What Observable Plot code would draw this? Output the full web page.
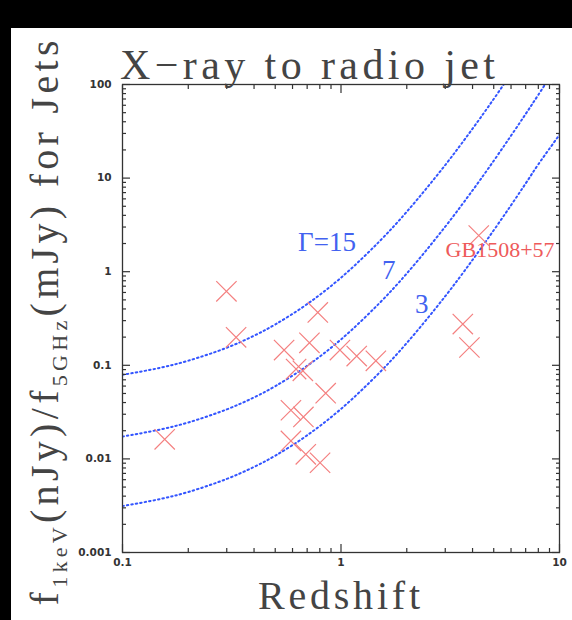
<!DOCTYPE html>
<html><head><meta charset="utf-8">
<script src="https://cdn.jsdelivr.net/npm/d3@7"></script>
<script src="https://cdn.jsdelivr.net/npm/@observablehq/plot@0.6"></script>
<style>
html,body{margin:0;padding:0;background:#000;width:572px;height:620px;overflow:hidden;}
#panel{position:absolute;left:11px;top:28px;width:561px;height:592px;background:#fff;}
#chart{position:absolute;left:0;top:0;}
</style></head><body>
<div id="panel"></div><div id="chart"></div>
<script>
// Jet knots: redshift and X-ray/radio flux ratio
const redshift = [0.156, 0.299, 0.331, 0.783, 0.549, 0.717, 0.989, 1.18, 1.444, 0.623, 0.669, 0.851, 0.590, 0.673, 0.590, 0.690, 0.802, 4.27, 3.61, 3.87];
const ratio    = [0.0162, 0.617, 0.199, 0.367, 0.1455, 0.174, 0.1455, 0.1255, 0.1117, 0.0911, 0.0873, 0.0504, 0.0331, 0.0281, 0.01555, 0.0112, 0.0091, 2.435, 0.276, 0.155];

// IC/CMB model curves for bulk Lorentz factors
const curveZ   = [0.1, 0.15, 0.2, 0.3, 0.4, 0.5, 0.7, 1, 1.5, 2, 3, 4, 5, 6, 7, 8, 10];
const gamma15  = [0.079, 0.0944, 0.112, 0.154, 0.207, 0.273, 0.451, 0.863, 2.11, 4.37, 13.8, 33.7, 70, 130, 221, 354, 790];
const gamma7   = [0.0173, 0.0207, 0.0245, 0.0338, 0.0454, 0.0598, 0.0987, 0.189, 0.462, 0.957, 3.03, 7.39, 15.3, 28.4, 48.4, 77.6, 173];
const gamma3   = [0.00313, 0.00374, 0.00443, 0.00611, 0.00821, 0.01082, 0.01786, 0.0342, 0.0835, 0.173, 0.547, 1.336, 2.77, 5.13, 8.76, 14.03, 29];

// Annotations
const curveLabels = ["\u0393=15", "7", "3"];
const curveLabelX = [0.863, 1.655, 2.34];
const curveLabelY = [2.05, 1.03, 0.445];
const sourceLabel = ["GB1508+57"];
const sourceLabelX = [3.01];
const sourceLabelY = [1.71];

// Ticks
const xMajor = [0.1, 1, 10];
const xMajorLabels = ["0.1", "1", "10"];
const xMinor = [0.2, 0.3, 0.4, 0.5, 0.6, 0.7, 0.8, 0.9, 2, 3, 4, 5, 6, 7, 8, 9];
const yMajor = [0.001, 0.01, 0.1, 1, 10, 100];
const yMajorLabels = ["0.001", "0.01", "0.1", "1", "10", "100"];
const yMinor = [0.002,0.003,0.004,0.005,0.006,0.007,0.008,0.009,
                0.02,0.03,0.04,0.05,0.06,0.07,0.08,0.09,
                0.2,0.3,0.4,0.5,0.6,0.7,0.8,0.9,
                2,3,4,5,6,7,8,9,
                20,30,40,50,60,70,80,90];

const titleText = "X\u2212ray to radio jet";
const xTitle = "Redshift";

const points = redshift.map((z, i) => ({z, r: ratio[i]}));
const curves = [
  ...curveZ.map((z, i) => ({z, v: gamma15[i], g: "15"})),
  ...curveZ.map((z, i) => ({z, v: gamma7[i], g: "7"})),
  ...curveZ.map((z, i) => ({z, v: gamma3[i], g: "3"}))
];
const cl = curveLabels.map((t, i) => ({t, x: curveLabelX[i], y: curveLabelY[i]}));
const sl = sourceLabel.map((t, i) => ({t, x: sourceLabelX[i], y: sourceLabelY[i]}));

const axisColor = "#333";
const tickFont = {fontFamily: "DejaVu Sans", fontSize: 10.5, fontWeight: "bold"};

const plot = Plot.plot({
  width: 572, height: 620,
  marginLeft: 122, marginRight: 13, marginTop: 84, marginBottom: 68,
  style: {background: "transparent", overflow: "visible"},
  x: {type: "log", domain: [0.1, 10]},
  y: {type: "log", domain: [0.001, 100]},
  marks: [
    Plot.line(curves, {x: "z", y: "v", z: "g", stroke: "#3355ff", strokeWidth: 2, strokeDasharray: "1.5,3", curve: "catmull-rom", clip: true}),
    Plot.dot(points, {x: "z", y: "r", symbol: "times", r: 9.3, stroke: "#f48080", strokeWidth: 1.2}),
    Plot.text(cl, {x: "x", y: "y", text: "t", fill: "#4262f0", fontFamily: "Liberation Serif", fontSize: 27}),
    Plot.text(sl, {x: "x", y: "y", text: "t", fill: "#ee5a5a", fontFamily: "Liberation Serif", fontSize: 22, textAnchor: "start"}),
    Plot.frame({stroke: axisColor, strokeWidth: 1.3}),
    // labels
    Plot.axisX({anchor: "bottom", ticks: xMajor, tickSize: 0, tickPadding: 6, tickFormat: d => xMajorLabels[xMajor.indexOf(d)], label: null, fill: axisColor, ...tickFont}),
    Plot.axisY({anchor: "left", ticks: yMajor, tickSize: 0, tickPadding: 11, tickFormat: d => yMajorLabels[yMajor.indexOf(d)], label: null, fill: axisColor, ...tickFont}),
    // inward ticks
    Plot.axisX({anchor: "bottom", ticks: xMajor, tickSize: -8, fill: "none", label: null, stroke: axisColor, strokeWidth: 1.2}),
    Plot.axisX({anchor: "bottom", ticks: xMinor, tickSize: -4, fill: "none", label: null, stroke: axisColor, strokeWidth: 1.2}),
    Plot.axisX({anchor: "top", ticks: xMajor, tickSize: -8, fill: "none", label: null, stroke: axisColor, strokeWidth: 1.2}),
    Plot.axisX({anchor: "top", ticks: xMinor, tickSize: -4, fill: "none", label: null, stroke: axisColor, strokeWidth: 1.2}),
    Plot.axisY({anchor: "left", ticks: yMajor, tickSize: -8, fill: "none", label: null, stroke: axisColor, strokeWidth: 1.2}),
    Plot.axisY({anchor: "left", ticks: yMinor, tickSize: -4, fill: "none", label: null, stroke: axisColor, strokeWidth: 1.2}),
    Plot.axisY({anchor: "right", ticks: yMajor, tickSize: -8, fill: "none", label: null, stroke: axisColor, strokeWidth: 1.2}),
    Plot.axisY({anchor: "right", ticks: yMinor, tickSize: -4, fill: "none", label: null, stroke: axisColor, strokeWidth: 1.2})
  ]
});
document.getElementById("chart").appendChild(plot);

const svg = d3.select(plot);
const serif = "Liberation Serif";
svg.append("text")
  .attr("x", 120).attr("y", 79).attr("text-anchor", "start")
  .attr("font-family", serif).attr("font-size", 42).attr("fill", "#444")
  .attr("textLength", 375).attr("lengthAdjust", "spacing")
  .text(titleText);
svg.append("text")
  .attr("x", 339).attr("y", 609).attr("text-anchor", "middle")
  .attr("font-family", serif).attr("font-size", 40).attr("fill", "#444")
  .attr("textLength", 162).attr("lengthAdjust", "spacing")
  .text(xTitle);
const yl = svg.append("text")
  .attr("transform", "translate(58,323) rotate(-90)")
  .attr("text-anchor", "middle")
  .attr("font-family", serif).attr("font-size", 40).attr("fill", "#444")
  .attr("textLength", 565).attr("lengthAdjust", "spacing");
yl.append("tspan").text("f");
yl.append("tspan").attr("font-size", 22).attr("dy", 9).text("1keV");
yl.append("tspan").attr("dy", -9).text("(nJy)/f");
yl.append("tspan").attr("font-size", 22).attr("dy", 9).text("5GHz");
yl.append("tspan").attr("dy", -9).text("(mJy) for Jets");
</script></body></html>
